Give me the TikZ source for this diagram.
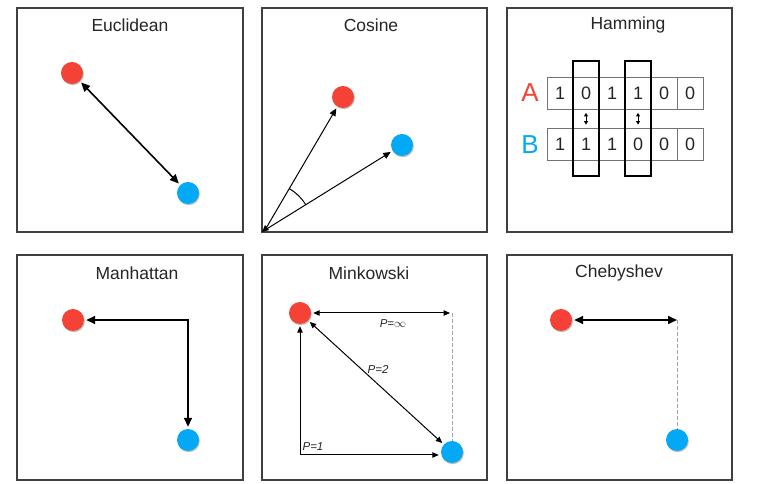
\documentclass[tikz,border=0pt]{standalone}
\usepackage{fontspec}
\setmainfont{Liberation Sans}
\usetikzlibrary{arrows.meta,shadows}
\definecolor{myred}{HTML}{F44336}
\definecolor{myblue}{HTML}{03A9F4}
\tikzset{
  panel/.style={draw=black!75, line width=1.3pt},
  ttl/.style={font=\fontsize{17.5}{19}\selectfont, text=black!85},
  dotbase/.style={circle, minimum size=22pt, inner sep=0pt,
    drop shadow={shadow xshift=0.8pt, shadow yshift=-1.2pt, opacity=0.25, fill=black}},
  rdot/.style={dotbase, fill=myred},
  bdot/.style={dotbase, fill=myblue},
  thickarr/.style={line width=1.6pt, {Triangle[length=9pt,width=8pt]}-{Triangle[length=9pt,width=8pt]}, shorten <=2pt, shorten >=2pt},
  thinarr/.style={line width=1pt, {Triangle[length=6.5pt,width=5.5pt]}-{Triangle[length=6.5pt,width=5.5pt]}, shorten <=2pt, shorten >=2pt},
  onearr/.style={line width=1pt, -{Triangle[length=7.5pt,width=6.5pt]}, shorten >=2pt},
  guide/.style={draw=black!35, line width=0.9pt, dashed, dash pattern=on 4pt off 2pt},
  cell/.style={draw=black!55, line width=0.8pt, minimum width=26pt, minimum height=32pt, inner sep=0pt, font=\fontsize{18}{19}\selectfont, text=black!85},
  tallbox/.style={draw=black, line width=1.8pt, minimum width=26pt, minimum height=115pt, inner sep=0pt},
  tinyarr/.style={line width=0.8pt, {Triangle[length=3.5pt,width=4pt]}-{Triangle[length=3.5pt,width=4pt]}, shorten <=3.5pt, shorten >=3.5pt},
  plabel/.style={font=\fontsize{11.5}{12}\selectfont\itshape, text=black!85},
}
\begin{document}
\begin{tikzpicture}[x=1pt,y=1pt]
\useasboundingbox[fill=white] (0,0) rectangle (760,484);
% panels
\draw[panel] (17,252) rectangle (243,476);
\draw[panel] (262,252) rectangle (487,476);
\draw[panel] (507,252) rectangle (732,476);
\draw[panel] (17,4) rectangle (243,229);
\draw[panel] (262,4) rectangle (487,229);
\draw[panel] (507,4) rectangle (732,229);
% titles
\node[ttl] (t1) at (130,459) {Euclidean};
\node[ttl] (t2) at (371,459) {Cosine};
\node[ttl] (t3) at (628,459) {Hamming};
\node[ttl] (t4) at (137,211) {Manhattan};
\node[ttl] (t5) at (369,211) {Minkowski};
\node[ttl] (t6) at (619,211) {Chebyshev};
% Euclidean
\node[rdot] (r1) at (72,411) {};
\node[bdot] (b1) at (188,291) {};
\draw[thickarr] (r1) -- (b1);
% Cosine
\coordinate (o2) at (265,254);
\node[rdot] (r2) at (343,387) {};
\node[bdot] (b2) at (402,339) {};
\draw[onearr] (o2) -- (r2);
\draw[onearr] (o2) -- (b2);
\draw[line width=1pt] ([shift={(31.8:48)}]o2) arc[start angle=31.8, end angle=59.6, radius=48];
\fill (o2) ++(-3,-2) -- ++(7,2) -- ++(-4,5) -- cycle;
% Hamming
\node[font=\fontsize{26}{28}\selectfont, text=myred] (la) at (530,391) {A};
\node[font=\fontsize{26}{28}\selectfont, text=myblue] (lb) at (530,339.5) {B};
\node[cell] (a1) at (560,391) {1};
\node[cell] (a2) at (586,391) {0};
\node[cell] (a3) at (612,391) {1};
\node[cell] (a4) at (638,391) {1};
\node[cell] (a5) at (664,391) {0};
\node[cell] (a6) at (690,391) {0};
\node[cell] (c1) at (560,339.5) {1};
\node[cell] (c2) at (586,339.5) {1};
\node[cell] (c3) at (612,339.5) {1};
\node[cell] (c4) at (638,339.5) {0};
\node[cell] (c5) at (664,339.5) {0};
\node[cell] (c6) at (690,339.5) {0};
\node[tallbox] (h2) at (586,365.5) {};
\node[tallbox] (h4) at (638,365.5) {};
\draw[tinyarr] (a2) -- (c2);
\draw[tinyarr] (a4) -- (c4);
% Manhattan
\node[rdot] (r4) at (73,164) {};
\node[bdot] (b4) at (188,44) {};
\coordinate (k4) at (188,164);
\draw[thickarr, line join=miter] (r4) -- (k4) -- (b4);
% Minkowski
\node[rdot] (r5) at (300,171) {};
\node[bdot] (b5) at (452,32) {};
\coordinate (k5a) at (452,171);
\coordinate (k5b) at (300,29);
\draw[guide] (k5a) -- (b5);
\draw[thinarr] (r5) -- (k5a);
\draw[thinarr] (r5) -- (b5);
\draw[thinarr, line join=miter] (r5) -- (k5b) -- (k5b -| b5.west);
\node[plabel] (p1) at (313,37) {P=1};
\node[plabel] (p2) at (378,115) {P=2};
\node[plabel] (p3) at (393,160) {P=$\infty$};
% Chebyshev
\node[rdot] (r6) at (561,164) {};
\node[bdot] (b6) at (677,44) {};
\coordinate (k6) at (677,164);
\draw[guide] (k6) -- (b6);
\draw[thickarr, shorten >=0pt] (r6) -- (k6);
\end{tikzpicture}
\end{document}
